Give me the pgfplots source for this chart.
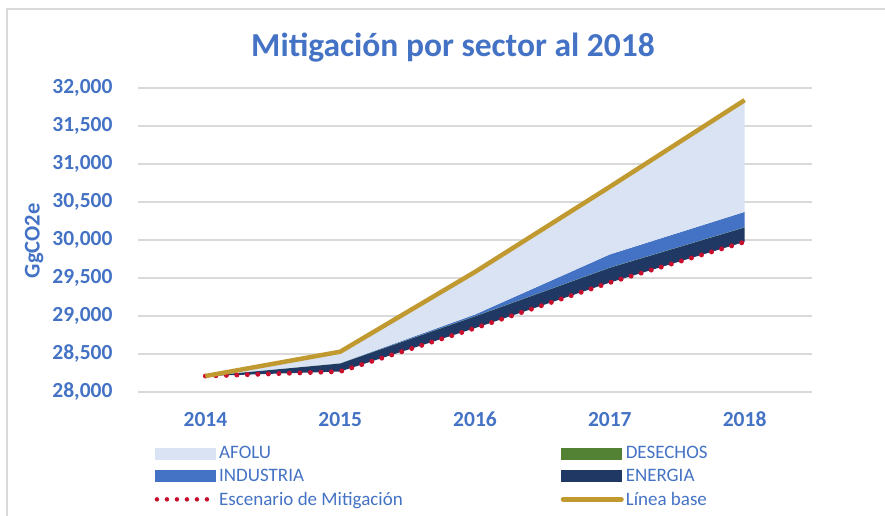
\documentclass[border=0pt]{standalone}
\usepackage{pgfplots}
\pgfplotsset{compat=1.18}
\usepackage{fontspec}
\setmainfont{Carlito}
\definecolor{tblue}{HTML}{4472C4}
\definecolor{afolu}{HTML}{DAE3F3}
\definecolor{indus}{HTML}{4472C4}
\definecolor{energ}{HTML}{1F3864}
\definecolor{desech}{HTML}{548235}
\definecolor{base}{HTML}{C09A30}
\definecolor{mitig}{HTML}{C8102E}
\definecolor{gridc}{HTML}{D9D9D9}
\begin{document}
\begin{tikzpicture}[x=1pt,y=1pt]
\path[use as bounding box] (0,0) rectangle (885,516);
\draw[color=gridc, line width=1.3pt] (7,0) -- (7,507) -- (885,507);
\node[font=\bfseries\fontsize{33.5}{38}\selectfont, text=tblue] at (453,468) {Mitigación por sector al 2018};
\begin{axis}[
  at={(138pt,124pt)}, anchor=south west, scale only axis,
  width=674pt, height=304pt,
  xmin=2013.5, xmax=2018.5, ymin=28000, ymax=32000,
  xtick={2014,2015,2016,2017,2018},
  xticklabels={2014,2015,2016,2017,2018},
  ytick={28000,28500,...,32000},
  scaled y ticks=false,
  /pgf/number format/assume math mode=true,
  /pgf/number format/fixed,
  /pgf/number format/1000 sep={,},
  axis line style={draw=none},
  major tick length=0pt,
  ymajorgrids, grid style={gridc, line width=1.2pt},
  ticklabel style={font=\bfseries\fontsize{21.5}{25}\selectfont, text=tblue},
  yticklabel style={xshift=-22pt},
  xticklabel style={yshift=-17pt, text height=14pt, text depth=1pt},
  ylabel={GgCO2e},
  ylabel style={font=\bfseries\fontsize{22.5}{26}\selectfont, text=tblue, at={(rel axis cs:-0.154,0.497)}, anchor=center},
  legend columns=2,
  legend style={draw=none, fill=none, at={(rel axis cs:0.02,-0.165)}, anchor=north west,
    font=\fontsize{19}{22}\selectfont, text=tblue, row sep=5pt,
    /tikz/every even column/.append style={column sep=156pt}},
  legend cell align=left,
]
\addplot[draw=none, fill=none, stack plots=y, forget plot] coordinates {(2014,28210)(2015,28270)(2016,28840)(2017,29440)(2018,29975)};
\addplot[draw=none, fill=energ, stack plots=y, forget plot] coordinates {(2014,2)(2015,105)(2016,155)(2017,195)(2018,190)} \closedcycle;
\addplot[draw=none, fill=desech, stack plots=y, forget plot] coordinates {(2014,0)(2015,3)(2016,3)(2017,3)(2018,3)} \closedcycle;
\addplot[draw=none, fill=indus, stack plots=y, forget plot] coordinates {(2014,0)(2015,2)(2016,22)(2017,172)(2018,202)} \closedcycle;
\addplot[draw=none, fill=afolu, stack plots=y, forget plot] coordinates {(2014,0)(2015,150)(2016,560)(2017,890)(2018,1470)} \closedcycle;
\addplot[mitig, line width=5pt, dash pattern=on 0pt off 10.5pt, line cap=round, forget plot] coordinates {(2014,28210)(2015,28270)(2016,28840)(2017,29440)(2018,29975)};
\addplot[base, line width=4.5pt, forget plot] coordinates {(2014,28210)(2015,28530)(2016,29580)(2017,30700)(2018,31840)};
\addlegendimage{legend image code/.code={\fill[afolu] (0pt,-5.5pt) rectangle (60pt,5.5pt);}}
\addlegendentry{AFOLU}
\addlegendimage{legend image code/.code={\fill[desech] (0pt,-5.5pt) rectangle (60pt,5.5pt);}}
\addlegendentry{DESECHOS}
\addlegendimage{legend image code/.code={\fill[indus] (0pt,-5.5pt) rectangle (60pt,5.5pt);}}
\addlegendentry{INDUSTRIA}
\addlegendimage{legend image code/.code={\fill[energ] (0pt,-5.5pt) rectangle (60pt,5.5pt);}}
\addlegendentry{ENERGIA}
\addlegendimage{legend image code/.code={\draw[mitig, line width=4.5pt, dash pattern=on 0pt off 10pt, line cap=round] (2pt,0pt) -- (60pt,0pt);}}
\addlegendentry{Escenario de Mitigación}
\addlegendimage{legend image code/.code={\draw[base, line width=5pt, line cap=round] (2pt,0pt) -- (60pt,0pt);}}
\addlegendentry{Línea base}
\end{axis}
\end{tikzpicture}
\end{document}
